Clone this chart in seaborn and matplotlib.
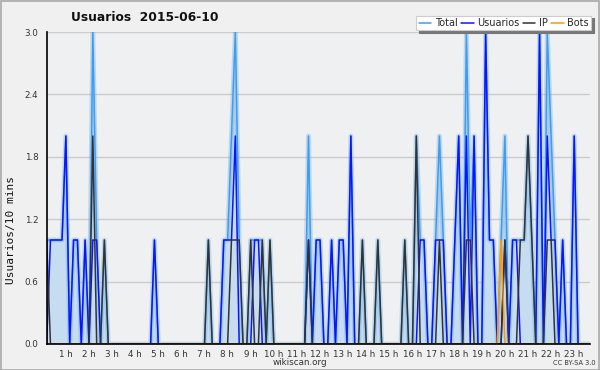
import numpy as np
import pandas as pd
import matplotlib
matplotlib.use("Agg")
import matplotlib.pyplot as plt
import matplotlib.transforms as mtrans
from matplotlib.patches import Rectangle
import seaborn as sns

# ---- data (10-minute slots, 2015-06-10) ----
usuarios = [0,1,1,1,1,2,0,1,1,0,1,0,
            1,1,0,0,0,0,0,0,0,0,0,0,
            0,0,0,0,1,0,0,0,0,0,0,0,
            0,0,0,0,0,0,0,0,0,0,1,1,
            1,2,0,0,0,0,1,1,0,0,0,0,
            0,0,0,0,0,0,0,0,1,0,1,1,
            0,0,1,0,1,1,0,2,0,0,0,0,
            0,0,0,0,0,0,0,0,0,0,0,0,
            0,1,1,0,0,1,1,1,0,0,1,2,
            0,2,0,2,0,0,3,1,1,0,0,1,
            0,1,1,0,0,0,0,0,3,0,2,1,
            1,0,1,0,0,2,0,0,0,0,0,0]
ip = [1,0,0,0,0,0,0,0,0,0,0,0,
      2,0,0,1,0,0,0,0,0,0,0,0,
      0,0,0,0,0,0,0,0,0,0,0,0,
      0,0,0,0,0,0,1,0,0,0,0,0,
      1,1,1,0,0,1,0,0,1,0,1,0,
      0,0,0,0,0,0,0,0,1,0,0,0,
      0,0,0,0,0,0,0,0,0,0,1,0,
      0,0,1,0,0,0,0,0,0,1,0,0,
      2,0,0,0,0,0,1,0,0,0,0,0,
      0,1,1,0,0,0,0,0,0,0,0,1,
      0,0,0,1,1,2,1,0,0,0,1,1,
      0,0,0,0,0,0,0,0,0,0,0,0]
bots = [0]*12*9 + [0,0,0,0,0,0,0,0,0,0,1,0] + [0]*12*2
total = [1,1,1,1,1,2,0,1,1,0,1,0,
         3,1,0,1,0,0,0,0,0,0,0,0,
         0,0,0,0,1,0,0,0,0,0,0,0,
         0,0,0,0,0,0,1,0,0,0,1,1,
         2,3,1,0,0,1,1,1,1,0,1,0,
         0,0,0,0,0,0,0,0,2,0,1,1,
         0,0,1,0,1,1,0,2,0,0,1,0,
         0,0,1,0,0,0,0,0,0,1,0,0,
         2,1,1,0,0,1,2,1,0,0,1,2,
         0,3,1,2,0,0,3,1,1,0,1,2,
         0,1,1,1,1,2,1,0,3,0,3,2,
         1,0,1,0,0,2,0,0,0,0,0,0]
slot = list(range(144))
hour_labels = [f"{h} h" for h in range(1, 24)]
y_ticks = [0.0, 0.6, 1.2, 1.8, 2.4, 3.0]

df = pd.DataFrame({"slot": slot, "Total": total, "Usuarios": usuarios,
                   "IP": ip, "Bots": bots})

sns.set_style("white")
plt.rcParams["font.family"] = ["DejaVu Sans"]

BG = "#f0f0f0"
fig = plt.figure(figsize=(6, 3.7), dpi=100, facecolor=BG)
ax = fig.add_axes([0.0777, 0.0703, 0.9063, 0.8432])
ax.set_facecolor("#eff0f2")

# area under total
ax.fill_between(df["slot"], 0, df["Total"], color="#c6dcf0", lw=0, zorder=1)
# soft glow on total edge
sns.lineplot(data=df, x="slot", y="Total", ax=ax, color="#6aa8dc", lw=3.5,
             alpha=0.35, legend=False, zorder=2)

colors = {"Total": "#3d9df5", "Usuarios": "#0a14ff", "IP": "#333333", "Bots": "#ff9900"}
for i, name in enumerate(["Total", "Usuarios", "IP", "Bots"]):
    sns.lineplot(data=df, x="slot", y=name, ax=ax, color=colors[name], lw=1.1,
                 label=name, zorder=3 + i)

ax.set_xlim(0, 141.2)
ax.set_ylim(0, 3.0)

# grid
ax.set_yticks(y_ticks)
ax.set_yticklabels([f"{v:.1f}" for v in y_ticks])
ax.set_yticks(np.arange(0, 3.0001, 0.15), minor=True)
ax.grid(axis="y", color="#cccccc", lw=1, zorder=0)
ax.set_axisbelow(True)

ax.set_xticks([6 * h for h in range(1, 24)])
ax.set_xticklabels(hour_labels)
ax.set_xticks(slot[:142], minor=True)
ax.tick_params(axis="x", which="both", direction="out", length=4, width=1,
               labelsize=6.3, pad=0, colors="#000000")
ax.tick_params(axis="x", which="major", labelcolor="#333333")
ax.tick_params(axis="y", which="major", direction="out", length=5, width=1,
               labelsize=6.3, pad=1, labelcolor="#333333")
ax.tick_params(axis="y", which="minor", direction="out", length=3, width=1)
off = mtrans.ScaledTranslation(-3 / 72, 0, fig.dpi_scale_trans)
for lab in ax.get_xticklabels():
    lab.set_transform(lab.get_transform() + off)

for s in ["top", "right"]:
    ax.spines[s].set_visible(False)
for s in ["left", "bottom"]:
    ax.spines[s].set_color("#000000")
    ax.spines[s].set_linewidth(1.2)
    ax.spines[s].set_zorder(10)

ax.set_xlabel("")
ax.set_ylabel("")
fig.text(0.018, 0.378, "Usuarios/10 mins", rotation=90, fontsize=8,
         family="DejaVu Sans Mono", ha="center", va="center", color="#111111")

fig.text(0.242, 0.954, "Usuarios  2015-06-10", fontsize=8.8, fontweight="bold",
         ha="center", va="center", color="#111111")

leg = ax.legend(loc="upper right", bbox_to_anchor=(0.985, 0.958),
                bbox_transform=fig.transFigure, ncol=4, fontsize=7,
                handlelength=1.3, handletextpad=0.35, columnspacing=0.35,
                borderpad=0.25, borderaxespad=0, frameon=True, fancybox=False,
                shadow={"color": "#777777", "alpha": 1.0}, edgecolor="#cccccc")
leg.get_frame().set_facecolor("white")
leg.get_frame().set_linewidth(0.8)
leg.set_zorder(20)

fig.text(0.5, 0.021, "wikiscan.org", fontsize=6.3, ha="center", va="center",
         color="#333333")
fig.text(0.958, 0.020, "CC BY-SA 3.0", fontsize=4.8, ha="center", va="center",
         color="#333333")

fig.patches.append(Rectangle((0.001, 0.001), 0.997, 0.996, transform=fig.transFigure,
                             fill=False, edgecolor="#a8a8a8", lw=1.2))

fig.savefig("out.png", dpi=100, facecolor=BG)
